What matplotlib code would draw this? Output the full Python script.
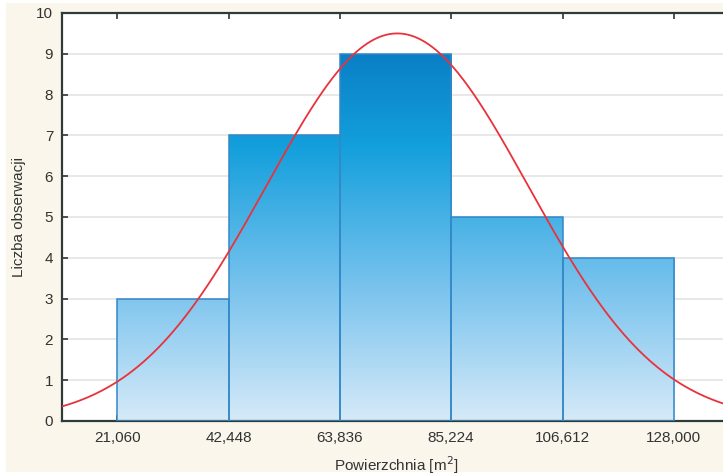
import numpy as np
import matplotlib.pyplot as plt
from matplotlib.colors import LinearSegmentedColormap

# bin centres (tick labels) and counts
bin_centres = [21060, 42448, 63836, 85224, 106612, 128000]
bin_labels = ["21,060", "42,448", "63,836", "85,224", "106,612", "128,000"]
counts = [3, 7, 9, 5, 4]
# fitted normal curve parameters (estimated from the red line)
fit_mean = 74870
fit_sd = 25150

plt.rcParams["font.family"] = ["Liberation Sans", "DejaVu Sans"]

width = bin_centres[1] - bin_centres[0]
lefts = np.array(bin_centres[:-1])

fig = plt.figure(figsize=(7.23, 4.75), dpi=100)
fig.patch.set_facecolor("white")
# cream panel behind the chart
fig.patches.append(plt.Rectangle((6 / 723, 3 / 475), 717 / 723, 469 / 475,
                                 transform=fig.transFigure, facecolor="#faf6ec",
                                 edgecolor="none", zorder=-10))

ax_left, ax_right = 61.5 / 723, 729.5 / 723
ax_bottom, ax_top = 1 - 421 / 475, 1 - 13 / 475
ax = fig.add_axes([ax_left, ax_bottom, ax_right - ax_left, ax_top - ax_bottom])
ax.set_facecolor("white")

xmin, xmax = bin_centres[0] - width / 2, bin_centres[-1] + width / 2

ax.set_yticks(range(0, 11))
ax.yaxis.grid(True, color="#e4e4e4", linewidth=1.2)
ax.set_axisbelow(True)

# gradient bars (gradient shared across all bars, by height)
cmap = LinearSegmentedColormap.from_list(
    "bars", [(0.0, "#d6eaf8"), (0.35, "#7cc4ee"), (0.75, "#139fdc"), (1.0, "#0a7fc6")])
grad = np.linspace(0, 1, 256).reshape(-1, 1)
bars = ax.bar(lefts, counts, width=width, align="edge", color="none",
              edgecolor="#3388c8", linewidth=1.1, zorder=3)
for b in bars:
    im = ax.imshow(grad, cmap=cmap, origin="lower", aspect="auto",
                   extent=(xmin, xmax, 0, max(counts)), zorder=2)
    im.set_clip_path(b)
ax.set_xlim(xmin, xmax)
ax.set_ylim(0, 10)

# normal curve
xs = np.linspace(xmin, xmax, 400)
ys = sum(counts) * width / (fit_sd * np.sqrt(2 * np.pi)) * np.exp(-0.5 * ((xs - fit_mean) / fit_sd) ** 2)
ax.plot(xs, ys, color="#e8323c", linewidth=1.3, zorder=4)

ax.set_xticks(bin_centres)
ax.set_xticklabels(bin_labels)
ax.tick_params(axis="both", direction="in", labelsize=11, colors="#333333",
               length=4, width=1.2, pad=6)
ax.tick_params(axis="x", top=True, labeltop=False, pad=7)

for s in ["left", "bottom", "top"]:
    ax.spines[s].set_color("#2f3a3a")
    ax.spines[s].set_linewidth(1.6)
ax.spines["right"].set_visible(False)

ax.set_xlabel("Powierzchnia [m$^2$]", fontsize=11, color="#333333")
ax.set_ylabel("Liczba obserwacji", fontsize=11, color="#333333")
ax.xaxis.set_label_coords((396 - 61.5) / (729.5 - 61.5), -0.082)
ax.yaxis.set_label_coords((26 - 61.5) / (729.5 - 61.5), 0.5)

fig.savefig("out.png", dpi=100, facecolor=fig.get_facecolor())
